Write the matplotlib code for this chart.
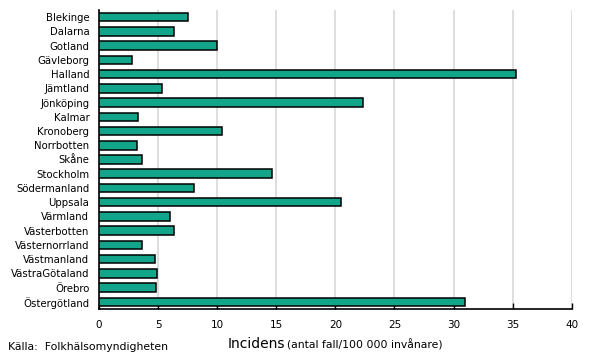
import matplotlib.pyplot as plt

# regioner och incidens (antal fall/100 000 invånare)
lan = ["Blekinge", "Dalarna", "Gotland", "Gävleborg", "Halland", "Jämtland",
       "Jönköping", "Kalmar", "Kronoberg", "Norrbotten", "Skåne", "Stockholm",
       "Södermanland", "Uppsala", "Värmland", "Västerbotten", "Västernorrland",
       "Västmanland", "VästraGötaland", "Örebro", "Östergötland"]
incidens = [7.5, 6.3, 10.0, 2.8, 35.3, 5.3, 22.3, 3.3, 10.4, 3.2, 3.6, 14.6,
            8.0, 20.5, 6.0, 6.3, 3.6, 4.7, 4.9, 4.85, 31.0]
xticks = [0, 5, 10, 15, 20, 25, 30, 35, 40]

plt.rcParams['font.family'] = ['DejaVu Sans']

fig = plt.figure(figsize=(5.9, 3.58), dpi=100)
ax = fig.add_axes([0.168, 0.137, 0.801, 0.835])

pos = list(range(len(lan)))
ax.barh(pos, incidens, height=0.6, color='#13a589', edgecolor='black', linewidth=1.1, zorder=3)

ax.set_ylim(len(lan) - 0.5, -0.5)
ax.set_yticks(pos)
ax.set_yticklabels(lan, fontsize=7.3)
ax.tick_params(axis='y', length=0, pad=7)

ax.set_xlim(0, 40)
ax.set_xticks(xticks)
ax.set_xticklabels([str(t) for t in xticks], fontsize=7.5)
ax.tick_params(axis='x', direction='in', length=4, width=1, pad=8)

ax.grid(axis='x', color='#d8d8d8', linewidth=1.2, zorder=0)
for s in ['top', 'right']:
    ax.spines[s].set_visible(False)
ax.spines['left'].set_linewidth(1.2)
ax.spines['bottom'].set_linewidth(1.2)

fig.text(0.386, 0.02, "Incidens", fontsize=10, va='bottom')
fig.text(0.487, 0.022, "(antal fall/100 000 invånare)", fontsize=7.8, va='bottom')
fig.text(0.014, 0.018, "Källa:  Folkhälsomyndigheten", fontsize=7.8, va='bottom')

fig.savefig("out.png", dpi=100)
